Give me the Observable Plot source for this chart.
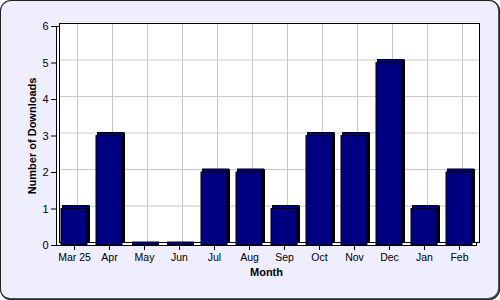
<!DOCTYPE html>
<html>
<head>
<meta charset="utf-8">
<script src="https://cdn.jsdelivr.net/npm/d3@7"></script>
<script src="https://cdn.jsdelivr.net/npm/@observablehq/plot@0.6"></script>
<style>
  html, body { margin: 0; padding: 0; background: #ffffff; }
</style>
</head>
<body>
<div id="chart"></div>
<script>
const months = ["Mar 25", "Apr", "May", "Jun", "Jul", "Aug", "Sep", "Oct", "Nov", "Dec", "Jan", "Feb"];
const downloads = [1, 3, 0, 0, 2, 2, 1, 3, 3, 5, 1, 2];
const yTicks = [0, 1, 2, 3, 4, 5, 6];

const data = months.map((m, i) => ({month: m, value: downloads[i]}));
const navy = "#000080";
const depth = 3;

const chart = Plot.plot({
  width: 500,
  height: 300,
  marginLeft: 56,
  marginRight: 24,
  marginTop: 26,
  marginBottom: 55,
  style: {
    background: "#eeeeff",
    fontFamily: "'Liberation Sans', Arial, sans-serif",
    fontSize: "10.5px",
    color: "#000",
    borderRadius: "11px",
    boxShadow: "inset 0 0 0 1px #222, inset -1px -1px 0 1px #555"
  },
  x: {type: "band", domain: months, paddingInner: 0.27, paddingOuter: 0.135, label: null},
  y: {domain: [0, 6], label: null},
  marks: [
    Plot.frame({fill: "white", stroke: "black"}),
    Plot.frame({fill: "white", stroke: "black", dx: depth, dy: -depth}),
    Plot.ruleY(yTicks.filter(t => t > 0 && t < 6), {stroke: "#c8c8c8", dx: depth, dy: -depth}),
    Plot.ruleX(months, {x: d => d, stroke: "#c8c8c8", dx: depth, dy: -depth}),
    Plot.frame({stroke: "black", dx: depth, dy: -depth}),
    // side face (behind)
    Plot.barY(data, {x: "month", y: "value", fill: "black", dx: depth, dy: -depth}),
    // front face
    Plot.barY(data, {x: "month", y: "value", fill: navy, stroke: "black", strokeWidth: 1}),
    // top face
    Plot.barY(data, {x: "month", y1: "value", y2: "value", insetTop: -depth, dx: depth / 2, fill: navy, stroke: "black", strokeWidth: 1}),
    Plot.axisY({ticks: yTicks, tickFormat: "d", tickSize: 5, tickPadding: 3, label: null, fontSize: 11}),
    Plot.axisX({tickSize: 5, tickPadding: 3, label: null}),
    Plot.text(["Month"], {frameAnchor: "bottom", dy: 30, fontWeight: "bold", fontSize: 11}),
    Plot.text(["Number of Downloads"], {frameAnchor: "left", dx: -24, rotate: -90, textAnchor: "middle", fontWeight: "bold", fontSize: 11})
  ]
});
document.getElementById("chart").appendChild(chart);
</script>
</body>
</html>
